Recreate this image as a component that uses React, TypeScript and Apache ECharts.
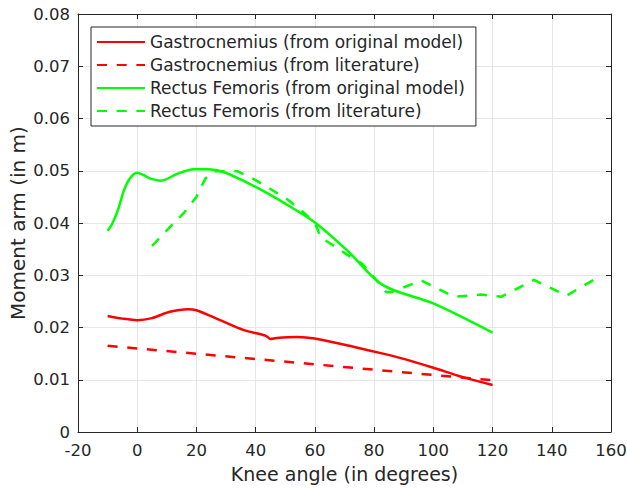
import React, { useEffect, useRef } from "react";
import * as echarts from "echarts";

const seriesNames = [
  "Gastrocnemius (from original model)",
  "Gastrocnemius (from literature)",
  "Rectus Femoris (from original model)",
  "Rectus Femoris (from literature)",
];

const gasModelX = [-10, -5, 0, 5, 11, 17, 20, 28, 36, 43.5, 45, 47, 54, 60, 73, 83, 90, 100, 110, 120];
const gasModelY = [0.0222, 0.0217, 0.0214, 0.0218, 0.023, 0.0235, 0.0233, 0.0214, 0.0195, 0.0184, 0.0178, 0.018, 0.0182, 0.0179, 0.0163, 0.015, 0.014, 0.0123, 0.0105, 0.009];

const gasLitX = [-10, 120];
const gasLitY = [0.0165, 0.0099];

const rfModelX = [-10, -8.5, -6.5, -4.5, -2.5, 0, 2, 4.5, 8, 13.5, 19, 24, 29, 40, 50, 60, 71, 83, 100, 120];
const rfModelY = [0.0385, 0.0398, 0.0425, 0.0462, 0.0485, 0.0496, 0.0492, 0.0485, 0.0481, 0.0494, 0.0503, 0.0503, 0.0498, 0.0469, 0.0437, 0.0401, 0.0347, 0.0281, 0.0246, 0.019];

const rfLitX = [5, 10, 16, 20, 23, 26, 34, 40, 45, 51, 56, 60, 62, 66, 71, 76, 80, 84, 86, 96, 107, 116, 123, 134, 145, 155];
const rfLitY = [0.0356, 0.0386, 0.0421, 0.045, 0.0485, 0.0499, 0.0499, 0.0482, 0.0465, 0.0444, 0.0421, 0.04, 0.0372, 0.0358, 0.0339, 0.0322, 0.0296, 0.0268, 0.0268, 0.029, 0.0259, 0.0263, 0.0259, 0.0291, 0.0261, 0.0294];

const xTicks = { min: -20, max: 160, interval: 20 };
const yTicks = { min: 0, max: 0.08, interval: 0.01 };

const xLabel = "Knee angle (in degrees)";
const yLabel = "Moment arm (in m)";

const pairs = (xs: number[], ys: number[]) => xs.map((x, i) => [x, ys[i]]);

const FONT = "DejaVu Sans";
const AXIS = "#262626";
const GRID = "#e6e6e6";

export default function App() {
  const ref = useRef<HTMLDivElement>(null);
  useEffect(() => {
    if (!ref.current) return;
    const chart = echarts.init(ref.current, undefined, { renderer: "svg" });
    const line = (name: string, data: number[][], color: string, dashed: boolean, smooth: boolean | number) => ({
      name,
      type: "line",
      data,
      symbol: "none",
      smooth,
      lineStyle: { color, width: 2.5, type: dashed ? [10, 9.7] : "solid" },
      itemStyle: { color },
      z: 3,
    });
    chart.setOption({
      animation: false,
      backgroundColor: "#fff",
      textStyle: { fontFamily: FONT },
      grid: { left: 78, right: 16, top: 14, bottom: 58, containLabel: false, outerBoundsMode: "none" },
      legend: {
        orient: "vertical",
        left: 91,
        top: 27,
        itemWidth: 48,
        itemHeight: 14,
        itemGap: 3,
        padding: [5, 11, 5, 5],
        borderColor: AXIS,
        borderWidth: 1,
        borderRadius: 0,
        backgroundColor: "#fff",
        itemStyle: { opacity: 0 },
        textStyle: { fontFamily: FONT, fontSize: 17, color: AXIS, lineHeight: 20 },
        data: seriesNames,
        z: 10,
      },
      xAxis: [
        {
          type: "value",
          ...xTicks,
          name: xLabel,
          nameLocation: "middle",
          nameGap: 32,
          nameMoveOverlap: false,
          nameTextStyle: { fontFamily: FONT, fontSize: 19, color: AXIS },
          axisLine: { show: true, onZero: false, lineStyle: { color: AXIS, width: 1 } },
          axisTick: { show: true, inside: true, length: 5, lineStyle: { color: AXIS } },
          axisLabel: { fontFamily: FONT, fontSize: 16.5, color: AXIS, margin: 10 },
          splitLine: { show: true, lineStyle: { color: GRID, width: 1 } },
        },
        {
          type: "value",
          position: "top",
          ...xTicks,
          axisLine: { show: true, onZero: false, lineStyle: { color: AXIS, width: 1 } },
          axisTick: { show: true, inside: true, length: 5, lineStyle: { color: AXIS } },
          axisLabel: { show: false },
          splitLine: { show: false },
        },
      ],
      yAxis: [
        {
          type: "value",
          ...yTicks,
          name: yLabel,
          nameLocation: "middle",
          nameGap: 50,
          nameMoveOverlap: false,
          nameRotate: 90,
          nameTextStyle: { fontFamily: FONT, fontSize: 20, color: AXIS },
          axisLine: { show: true, onZero: false, lineStyle: { color: AXIS, width: 1 } },
          axisTick: { show: true, inside: true, length: 5, lineStyle: { color: AXIS } },
          axisLabel: {
            fontFamily: FONT,
            fontSize: 16.5,
            color: AXIS,
            margin: 8,
            formatter: (v: number) => (v === 0 ? "0" : v.toFixed(2)),
          },
          splitLine: { show: true, lineStyle: { color: GRID, width: 1 } },
        },
        {
          type: "value",
          position: "right",
          ...yTicks,
          axisLine: { show: true, onZero: false, lineStyle: { color: AXIS, width: 1 } },
          axisTick: { show: true, inside: true, length: 5, lineStyle: { color: AXIS } },
          axisLabel: { show: false },
          splitLine: { show: false },
        },
      ],
      series: [
        line(seriesNames[0], pairs(gasModelX, gasModelY), "#ff0000", false, 0.3),
        line(seriesNames[1], pairs(gasLitX, gasLitY), "#ff0000", true, false),
        line(seriesNames[2], pairs(rfModelX, rfModelY), "#00ff00", false, 0.3),
        line(seriesNames[3], pairs(rfLitX, rfLitY), "#00ff00", true, false),
      ],
    });
    return () => chart.dispose();
  }, []);
  return <div ref={ref} style={{ width: 627, height: 490, position: "absolute", left: 0, top: 0 }} />;
}
